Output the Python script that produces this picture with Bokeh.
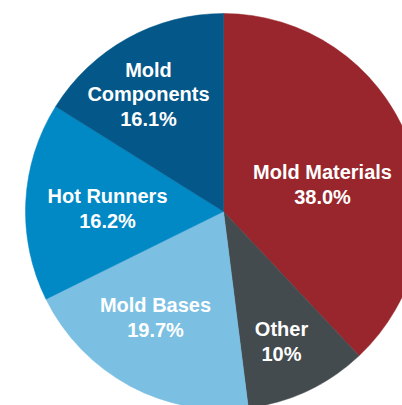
import math
from bokeh.plotting import figure
from bokeh.models import ColumnDataSource, Range1d
from bokeh.core.properties import value
from bokeh.embed import file_html
from bokeh.resources import INLINE

# ---- data ----
categories = ["Mold Materials", "Other", "Mold Bases", "Hot Runners", "Mold Components"]
shares = [38.0, 10.0, 19.7, 16.2, 16.1]
label_texts = ["Mold Materials\n38.0%", "Other\n10%", "Mold Bases\n19.7%",
               "Hot Runners\n16.2%", "Mold\nComponents\n16.1%"]
colors = ["#98262c", "#434b4e", "#7bbfe2", "#0089c5", "#035789"]

# ---- layout (pixels, screen coords) ----
W, H = 402, 405
CX, CY, R = 223, 211, 198
label_px = [322, 281, 155, 107, 148]
label_py = [184, 341, 317, 208, 94]

total = sum(shares)
starts, ends = [], []
acc = 0.0
for s in shares:
    a0 = acc / total * 2 * math.pi
    acc += s
    a1 = acc / total * 2 * math.pi
    # clockwise from 12 o'clock -> math angles, drawn anticlockwise
    starts.append(math.pi / 2 - a1)
    ends.append(math.pi / 2 - a0)

src = ColumnDataSource(dict(cat=categories, start=starts, end=ends, color=colors))

p = figure(width=W, height=H, output_backend="svg", toolbar_location=None,
           x_range=Range1d(0, W), y_range=Range1d(0, H), min_border=0)
p.axis.visible = False
p.grid.visible = False
p.outline_line_color = None
p.background_fill_color = "white"
p.border_fill_color = "white"

p.wedge(x=CX, y=H - CY, radius=R, start_angle="start", end_angle="end",
        direction="anticlock", fill_color="color", line_color="color",
        line_width=0.5, source=src)

lsrc = ColumnDataSource(dict(x=label_px, y=[H - v for v in label_py], t=label_texts))
p.text(x="x", y="y", text="t", source=lsrc, text_align="center",
       text_baseline="middle", text_color="white",
       text_font=value("Liberation Sans"), text_font_style="bold",
       text_font_size="20px", text_line_height=1.12)

open("out.html", "w").write(file_html(p, INLINE))
